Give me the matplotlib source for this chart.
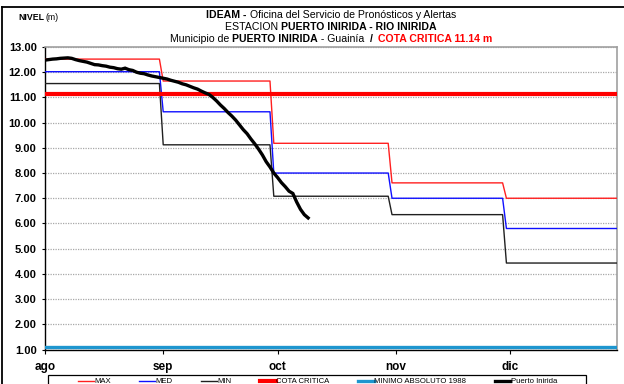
import numpy as np
import matplotlib
matplotlib.use("Agg")
import matplotlib.pyplot as plt
from matplotlib import font_manager
from matplotlib.lines import Line2D
from matplotlib.patches import Rectangle

# ---- data -------------------------------------------------------------
month_labels = ["ago", "sep", "oct", "nov", "dic"]
month_start_days = [0, 31, 61, 92, 122]          # day offsets from 1 Aug
level_change_days = [31, 60, 91, 121]            # first day of each new reference level
last_day = 150

max_levels = [12.52, 11.65, 9.18, 7.61, 7.00]
med_levels = [12.02, 10.43, 8.00, 7.00, 5.80]
min_levels = [11.55, 9.12, 7.08, 6.35, 4.43]

cota_critica = 11.14
minimo_absoluto_1988 = 1.10

# daily stage readings, Puerto Inirida (from 1 Aug)
puerto_inirida = [12.48, 12.50, 12.52, 12.53, 12.55, 12.56, 12.57, 12.55, 12.50, 12.46,
                  12.43, 12.40, 12.35, 12.30, 12.29, 12.26, 12.24, 12.20, 12.18, 12.14,
                  12.12, 12.16, 12.10, 12.07, 12.00, 11.96, 11.94, 11.89, 11.85, 11.82,
                  11.79, 11.76, 11.73, 11.68, 11.64, 11.60, 11.54, 11.50, 11.44, 11.38,
                  11.33, 11.25, 11.18, 11.12, 11.00, 10.86, 10.70, 10.56, 10.40, 10.26,
                  10.10, 9.91, 9.72, 9.56, 9.35, 9.16, 8.95, 8.72, 8.45, 8.24,
                  8.00, 7.82, 7.62, 7.46, 7.28, 7.19, 6.85, 6.56, 6.35, 6.22]

y_ticks = np.arange(1, 14, 1)

# ---- fonts ------------------------------------------------------------
available = {f.name for f in font_manager.fontManager.ttflist}
narrow = next((f for f in ["Liberation Sans Narrow", "DejaVu Sans Condensed", "Liberation Sans"]
               if f in available), "DejaVu Sans")
regular = "Liberation Sans" if "Liberation Sans" in available else "DejaVu Sans"
plt.rcParams["font.family"] = [regular, "DejaVu Sans"]

# ---- figure -------------------------------------------------------------
W, H = 624, 384
fig = plt.figure(figsize=(W / 100, H / 100), dpi=100)
fig.patch.set_facecolor("white")

def fx(px):
    return px / W

def fy(py):
    return 1 - py / H

ax = fig.add_axes([fx(45), fy(349.5), fx(617) - fx(45), fy(47) - fy(349.5)])

days = np.arange(0, last_day + 1)
period = np.searchsorted(level_change_days, days, side="right")

ax.plot(days, np.array(max_levels)[period], color="#ff2020", lw=1.0, label="MAX", zorder=3)
ax.plot(days, np.array(med_levels)[period], color="#1010ff", lw=1.0, label="MED", zorder=3)
ax.plot(days, np.array(min_levels)[period], color="#202020", lw=1.0, label="MIN", zorder=3)
ax.axhline(cota_critica, color="#ff0000", lw=3.0, label="COTA CRITICA", zorder=4)
ax.axhline(minimo_absoluto_1988, color="#1e96cf", lw=2.4, label="MINIMO ABSOLUTO 1988", zorder=4)
ax.plot(np.arange(len(puerto_inirida)), puerto_inirida, color="black", lw=2.4,
        label="Puerto Inirida", zorder=5, solid_joinstyle="miter")

ax.set_xlim(0, last_day)
ax.set_ylim(1, 13)
ax.set_yticks(y_ticks)
ax.set_yticklabels([f"{v:.2f}" for v in y_ticks])
ax.set_xticks(month_start_days)
ax.set_xticklabels(month_labels)

for lab in ax.get_yticklabels():
    lab.set_fontweight("bold")
    lab.set_fontsize(8)
for lab in ax.get_xticklabels():
    lab.set_fontweight("bold")
    lab.set_fontsize(8.5)

ax.tick_params(axis="y", length=2.5, width=0.8, pad=3.5, colors="black")
ax.tick_params(axis="x", length=3, width=0.8, pad=5.5, colors="black")

ax.grid(axis="y", color="#a8a8a8", lw=0.9, linestyle=(0, (1, 1)))
ax.set_axisbelow(True)
for side in ["top", "right"]:
    ax.spines[side].set_color("#a0a0a0")
    ax.spines[side].set_linewidth(1.2)
for side in ["left", "bottom"]:
    ax.spines[side].set_color("black")
    ax.spines[side].set_linewidth(1.0)

# ---- title (mixed weights on one line) -------------------------------------
renderer = fig.canvas.get_renderer()

def rich_line(segments, xc, yc, size):
    pieces = []
    total = 0.0
    for txt, weight, color in segments:
        t = fig.text(0, fy(yc), txt, fontsize=size, fontweight=weight, color=color,
                     family=[narrow, "DejaVu Sans"], va="center", ha="left")
        w = t.get_window_extent(renderer=renderer).width
        pieces.append((t, w))
        total += w
    x = xc - total / 2
    for t, w in pieces:
        t.set_x(fx(x))
        x += w

title_size = 7.6
rich_line([("IDEAM - ", "bold", "black"),
           ("Oficina del Servicio de Pronósticos y Alertas", "normal", "black")],
          331, 14.5, title_size)
rich_line([("ESTACION ", "normal", "black"),
           ("PUERTO INIRIDA - RIO INIRIDA", "bold", "black")],
          331, 27, title_size)
rich_line([("Municipio de ", "normal", "black"),
           ("PUERTO INIRIDA", "bold", "black"),
           (" - Guainía  ", "normal", "black"),
           ("/  ", "bold", "black"),
           ("COTA CRITICA 11.14 m", "bold", "#ff0000")],
          331, 39.5, title_size)

t1 = fig.text(fx(18), fy(17), "NIVEL", fontsize=6.3, fontweight="bold",
              family=[narrow, "DejaVu Sans"], va="center", ha="left")
w1 = t1.get_window_extent(renderer=renderer).width
fig.text(fx(18 + w1 + 1.5), fy(17), "(m)", fontsize=6.3,
         family=[narrow, "DejaVu Sans"], va="center", ha="left")

# ---- legend ---------------------------------------------------------------
handles, labels = ax.get_legend_handles_labels()
leg = fig.legend(handles, labels, loc="upper left", bbox_to_anchor=(fx(78), fy(378)),
                 ncol=6, frameon=False,
                 prop={"family": [narrow, "DejaVu Sans"], "size": 5.6},
                 handlelength=2.0, handletextpad=0.1, columnspacing=3.65,
                 borderpad=0, borderaxespad=0)
# legend box (runs off the lower edge of the figure)
fig.add_artist(Rectangle((fx(48), fy(H + 10)), fx(586) - fx(48), fy(375) - fy(H + 10),
                         fill=False, edgecolor="black", lw=0.9))

# outer chart frame
fig.add_artist(Line2D([fx(2), fx(W + 5)], [fy(6.5), fy(6.5)], color="black", lw=1.3))
fig.add_artist(Line2D([fx(2), fx(2)], [fy(6.5), fy(H + 5)], color="black", lw=1.3))

fig.savefig("out.png", dpi=100)
